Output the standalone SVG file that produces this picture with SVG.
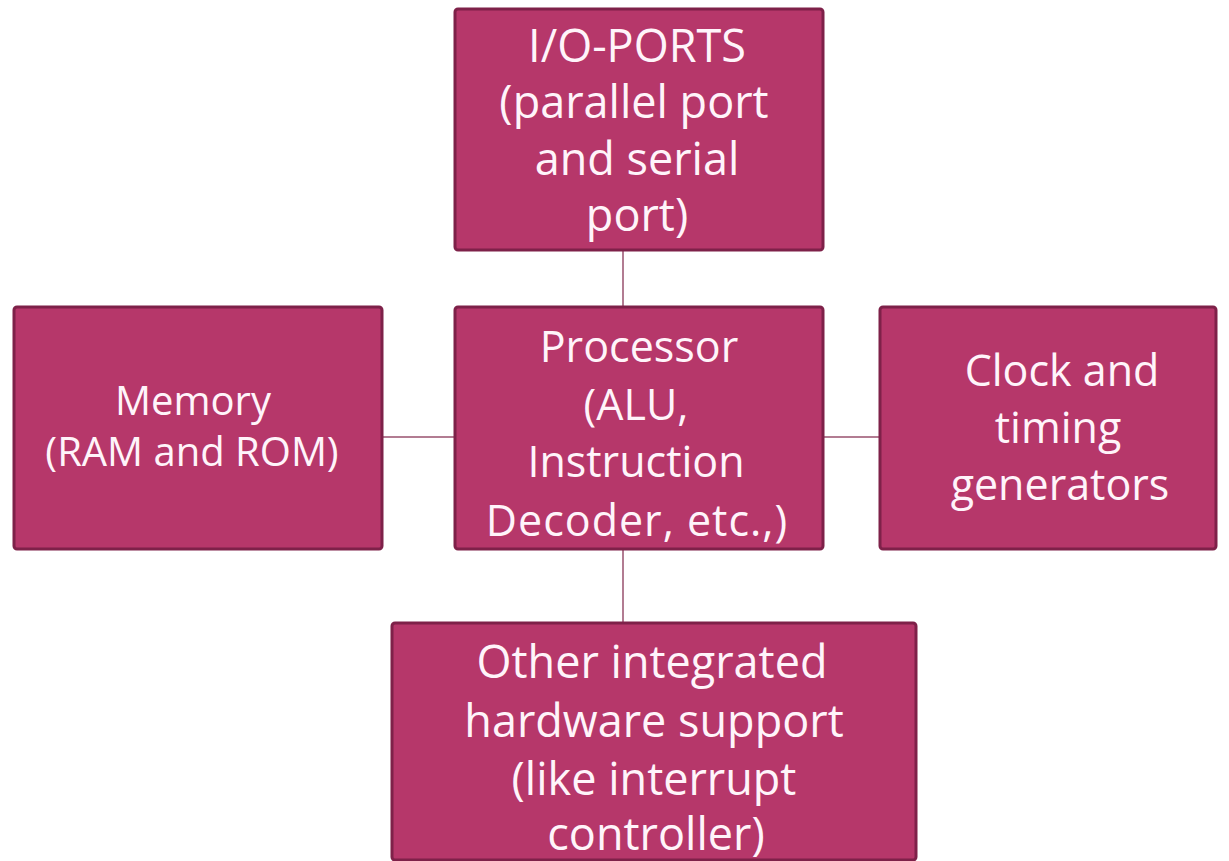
<svg xmlns="http://www.w3.org/2000/svg" width="1229" height="861" viewBox="0 0 1229 861">
<style>
.box{fill:#B6376A;stroke:#7E2149;stroke-width:3}
.lbl{font-family:"Open Sans","Liberation Sans",sans-serif;fill:#FFF4FA;text-anchor:middle}
.conn{stroke:#B27C92;stroke-width:2;fill:none}
</style>
<rect width="1229" height="861" fill="#FFFFFF"/>
<g id="connectors">
<line class="conn" x1="623" y1="250" x2="623" y2="307"/>
<line class="conn" x1="382" y1="437" x2="455" y2="437"/>
<line class="conn" x1="823" y1="437" x2="880" y2="437"/>
<line class="conn" x1="623" y1="549" x2="623" y2="623"/>
</g>
<g id="io-ports">
<rect class="box" x="455" y="9" width="368" height="241" rx="3"/>
<text class="lbl" font-size="45"><tspan x="637" y="62">I/O-PORTS</tspan><tspan x="634" y="118">(parallel port</tspan><tspan x="637" y="175">and serial</tspan><tspan x="637" y="231">port)</tspan></text>
</g>
<g id="memory">
<rect class="box" x="14" y="307" width="368" height="242" rx="3"/>
<text class="lbl" font-size="40"><tspan x="193" y="415">Memory</tspan><tspan x="192" y="466">(RAM and ROM)</tspan></text>
</g>
<g id="processor">
<rect class="box" x="455" y="307" width="368" height="242" rx="3"/>
<text class="lbl" font-size="43"><tspan x="639" y="362">Processor</tspan><tspan x="636" y="420">(ALU,</tspan><tspan x="636" y="477">Instruction</tspan><tspan x="637" y="536" letter-spacing="1">Decoder, etc.,)</tspan></text>
</g>
<g id="clock">
<rect class="box" x="880" y="307" width="336" height="242" rx="3"/>
<text class="lbl" font-size="43"><tspan x="1062" y="386">Clock and</tspan><tspan x="1058" y="443">timing</tspan><tspan x="1060" y="500">generators</tspan></text>
</g>
<g id="other-hardware">
<rect class="box" x="392" y="623" width="524" height="237" rx="3"/>
<text class="lbl" font-size="45"><tspan x="652" y="678">Other integrated</tspan><tspan x="654" y="737">hardware support</tspan><tspan x="654" y="795">(like interrupt</tspan><tspan x="656" y="850">controller)</tspan></text>
</g>
</svg>
